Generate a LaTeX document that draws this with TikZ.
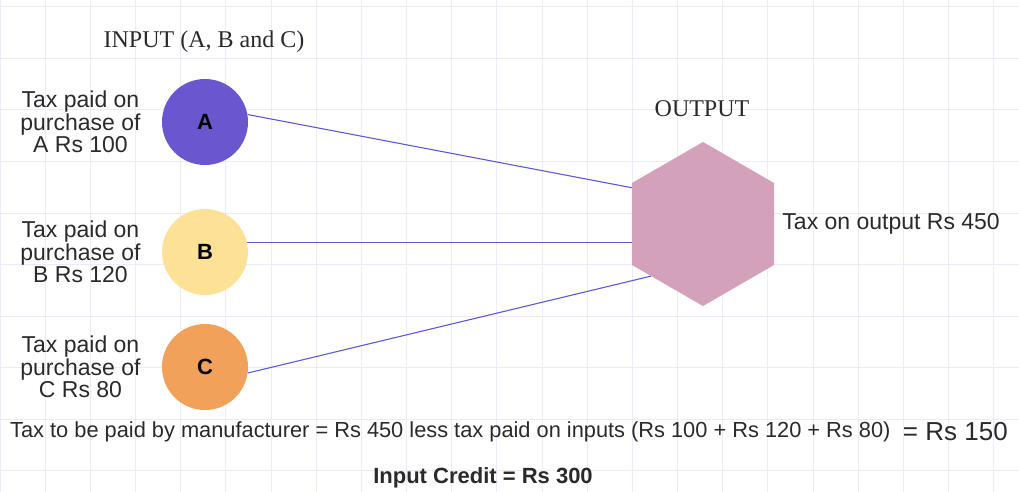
\documentclass[tikz,border=0pt]{standalone}
\usepackage{fontspec}
\setmainfont{Liberation Sans}
\newfontfamily\headfont{Liberation Serif}
\usetikzlibrary{shapes.geometric,positioning}
\definecolor{inA}{HTML}{6A57CF}
\definecolor{inB}{HTML}{FDE196}
\definecolor{inC}{HTML}{F2A15B}
\definecolor{outpink}{HTML}{D4A1BB}
\definecolor{linkblue}{HTML}{5A5AD8}
\definecolor{gridgray}{HTML}{ECEBF6}
\definecolor{textgray}{HTML}{2A2A2A}
\begin{document}
\begin{tikzpicture}[x=1pt,y=-1pt,
	item/.style={circle,minimum size=86pt,inner sep=0pt,font=\fontsize{22}{22}\selectfont\bfseries},
	hexa/.style={regular polygon,regular polygon sides=6,regular polygon rotate=30,minimum size=164pt,inner sep=0pt},
	note/.style={align=center,inner sep=0pt,text=textgray,font=\fontsize{23}{22.5}\selectfont},
	head/.style={inner sep=0pt,text=textgray,font=\fontsize{24}{24}\selectfont\headfont},
	link/.style={linkblue,line width=1.1pt}]
	\useasboundingbox (0,0) rectangle (1019,492);
	\foreach \x in {0,...,22} \draw[gridgray,line width=1pt] (\x*45.17,0) -- (\x*45.17,492);
	\foreach \y in {0,...,9} \draw[gridgray,line width=1pt] (0,7+\y*51.5) -- (1019,7+\y*51.5);
	\node[item,fill=inA] (A) at (205,122) {A};
	\node[item,fill=inB] (B) at (205,252) {B};
	\node[item,fill=inC] (C) at (205,367) {C};
	\node[hexa,fill=outpink] (H) at (703,224) {};
	\node[head] (inputs) at (204,42) {INPUT (A, B and C)};
	\node[head] (output) at (702,109) {OUTPUT};
	\node[note,left=21pt of A] (taxA) {Tax paid on\\purchase of\\A Rs 100};
	\node[note,left=21pt of B] (taxB) {Tax paid on\\purchase of\\B Rs 120};
	\node[note,left=21pt of C] (taxC) {Tax paid on\\purchase of\\C Rs 80};
	\node[note,right=8pt of H] (taxout) {Tax on output Rs 450};
	\draw[link] (A.10) -- (H.153);
	\draw[link] (B.13) -- (B.13 -| H.west);
	\draw[link] (C.-8) -- (H.225);
	\node[note,anchor=west,font=\fontsize{21.8}{22}\selectfont] (payable) at (10,432) {Tax to be paid by manufacturer = Rs 450 less tax paid on inputs (Rs 100 + Rs 120 + Rs 80)};
	\node[note,right=12pt of payable,font=\fontsize{26}{26}\selectfont] (net) {= Rs 150};
	\node[note,font=\fontsize{22}{22}\selectfont\bfseries] (credit) at (483,478) {Input Credit = Rs 300};
\end{tikzpicture}
\end{document}
